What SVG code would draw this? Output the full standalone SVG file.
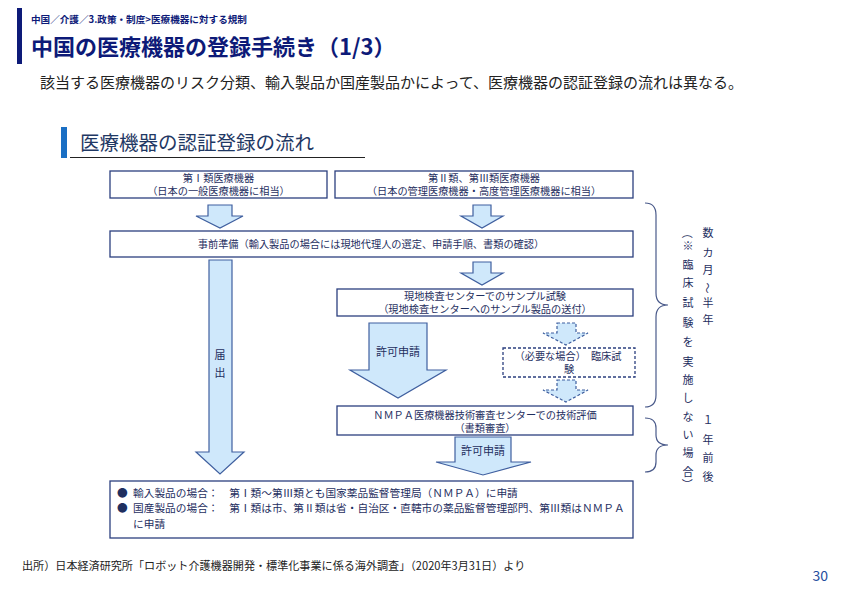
<svg xmlns="http://www.w3.org/2000/svg" width="842" height="595" viewBox="0 0 842 595">
<style>
  text { font-family: "Noto Sans CJK JP", "Noto Sans", sans-serif; }
  .box { fill: #ffffff; stroke: #2b3f7f; stroke-width: 1.3; }
  .dbox { fill: #ffffff; stroke: #2b3f7f; stroke-width: 1.3; stroke-dasharray: 3 2; }
  .arr { fill: #cfe8fb; stroke: #3f5f9f; stroke-width: 1.2; stroke-linejoin: miter; }
  .darr { fill: #cfe8fb; stroke: #3f5f9f; stroke-width: 1.2; stroke-dasharray: 3 2; }
  .bt { font-size: 10.2px; fill: #1f2f5f; text-anchor: middle; }
  .lt { font-size: 10.7px; fill: #1f2f5f; }
  .vt { font-size: 11px; fill: #1f2f5f; text-anchor: middle; }
  .rt { font-size: 11px; fill: #1f2f5f; text-anchor: middle; dominant-baseline: central; }
  .brace { fill: none; stroke: #4a5a8a; stroke-width: 1.2; }
</style>
<rect width="842" height="595" fill="#ffffff"/>

<g id="header">
  <rect x="17" y="8" width="5" height="56" fill="#0d1a78"/>
  <text x="31" y="23" font-size="9.6" font-weight="bold" fill="#0d1a78">中国／介護／3.政策・制度&gt;医療機器に対する規制</text>
  <text x="31" y="55" font-size="22" font-weight="bold" fill="#0d1a78">中国の医療機器の登録手続き（1/3）</text>
  <text x="40" y="88" font-size="15" fill="#222222">該当する医療機器のリスク分類、輸入製品か国産製品かによって、医療機器の認証登録の流れは異なる。</text>
</g>

<g id="section">
  <rect x="61" y="127" width="6" height="31" fill="#1a6fc4"/>
  <text x="80" y="150" font-size="19.5" fill="#1f3864">医療機器の認証登録の流れ</text>
  <line x1="70" y1="157.5" x2="365" y2="157.5" stroke="#222222" stroke-width="1"/>
</g>

<g id="connectors">
  <polygon class="arr" points="208,205 232,205 232,216 243,216 220,228 196,216 208,216"/>
  <polygon class="arr" points="473,205 491,205 491,216 503,216 482,228 461,216 473,216"/>
  <polygon class="arr" points="473,262 491,262 491,273 503,273 482,285 461,273 473,273"/>
  <polygon class="arr" points="209,260 232,260 232,452 244,452 220,474 196,452 209,452"/>
  <polygon class="arr" points="369,323 427,323 427,370 446,370 398,398 350,370 369,370"/>
  <polygon class="darr" points="557,323 576,323 576,333 588,333 566,345 543,333 557,333"/>
  <polygon class="darr" points="557,380 576,380 576,390 588,390 566,402 543,390 557,390"/>
  <polygon class="arr" points="455,437 511,437 511,462 531,462 483,475 436,462 455,462"/>
  <text class="vt" x="220" y="359">届</text>
  <text class="vt" x="220" y="377">出</text>
  <text class="vt" x="398" y="356">許可申請</text>
  <text class="vt" x="483" y="455">許可申請</text>
</g>

<g id="box-class1">
  <rect class="box" x="110" y="171" width="217" height="27"/>
  <text class="bt" x="218.5" y="182">第Ⅰ類医療機器</text>
  <text class="bt" x="218.5" y="195">（日本の一般医療機器に相当）</text>
</g>

<g id="box-class23">
  <rect class="box" x="335" y="171" width="298" height="27"/>
  <text class="bt" x="484" y="182">第Ⅱ類、第Ⅲ類医療機器</text>
  <text class="bt" x="484" y="195">（日本の管理医療機器・高度管理医療機器に相当）</text>
</g>

<g id="box-prep">
  <rect class="box" x="110" y="231" width="523" height="26"/>
  <text class="bt" x="371" y="247.5">事前準備（輸入製品の場合には現地代理人の選定、申請手順、書類の確認）</text>
</g>

<g id="box-sample">
  <rect class="box" x="337" y="289" width="296" height="27"/>
  <text class="bt" x="485" y="299.5">現地検査センターでのサンプル試験</text>
  <text class="bt" x="485" y="312.5">（現地検査センターへのサンプル製品の送付）</text>
</g>

<g id="box-clinical">
  <rect class="dbox" x="503" y="348" width="132" height="29"/>
  <text class="bt" x="568" y="359.5">（必要な場合）　臨床試</text>
  <text class="bt" x="569" y="372.5">験</text>
</g>

<g id="box-nmpa">
  <rect class="box" x="337" y="406" width="296" height="29"/>
  <text class="bt" x="485" y="418.5">ＮＭＰＡ医療機器技術審査センターでの技術評価</text>
  <text class="bt" x="485" y="431.5">（書類審査）</text>
</g>

<g id="box-list">
  <rect class="box" x="110" y="481" width="523" height="57"/>
  <text class="lt" x="117" y="497">●</text>
  <text class="lt" x="133" y="497">輸入製品の場合：　第Ⅰ類～第Ⅲ類とも国家薬品監督管理局（ＮＭＰＡ）に申請</text>
  <text class="lt" x="117" y="512">●</text>
  <text class="lt" x="133" y="512">国産製品の場合：　第Ⅰ類は市、第Ⅱ類は省・自治区・直轄市の薬品監督管理部門、第Ⅲ類はＮＭＰＡ</text>
  <text class="lt" x="133" y="528">に申請</text>
</g>

<g id="braces">
  <path class="brace" d="M645,203 Q656,203 656,215 L656,293 Q656,305 668,305 Q656,305 656,317 L656,395 Q656,407 645,407"/>
  <path class="brace" d="M645,418 Q656,418 656,428 L656,435 Q656,445 668,445 Q656,445 656,455 L656,462 Q656,472 645,472"/>
</g>

<g id="vertical-notes">
  <text class="rt" transform="translate(688,233) rotate(90)">（</text>
  <text class="vt" x="688" y="250">※</text>
  <text class="vt" x="688" y="269">臨</text>
  <text class="vt" x="688" y="287">床</text>
  <text class="vt" x="688" y="307">試</text>
  <text class="vt" x="688" y="327">験</text>
  <text class="vt" x="688" y="346">を</text>
  <text class="vt" x="688" y="366">実</text>
  <text class="vt" x="688" y="384">施</text>
  <text class="vt" x="688" y="402">し</text>
  <text class="vt" x="688" y="421">な</text>
  <text class="vt" x="688" y="439">い</text>
  <text class="vt" x="688" y="457">場</text>
  <text class="vt" x="688" y="476">合</text>
  <text class="rt" transform="translate(688,484) rotate(90)">）</text>
  <text class="vt" x="708" y="237">数</text>
  <text class="vt" x="708" y="257">カ</text>
  <text class="vt" x="708" y="274">月</text>
  <text class="rt" transform="translate(708,288) rotate(90)">～</text>
  <text class="vt" x="708" y="307">半</text>
  <text class="vt" x="708" y="324">年</text>
  <text class="vt" x="708" y="424">１</text>
  <text class="vt" x="708" y="444">年</text>
  <text class="vt" x="708" y="462">前</text>
  <text class="vt" x="708" y="481">後</text>
</g>

<g id="footer">
  <text x="22" y="570" font-size="11.1" fill="#222222">出所）日本経済研究所「ロボット介護機器開発・標準化事業に係る海外調査」（2020年3月31日）より</text>
  <text x="828" y="581" font-size="14" fill="#1f4e9e" text-anchor="end">30</text>
</g>
</svg>
